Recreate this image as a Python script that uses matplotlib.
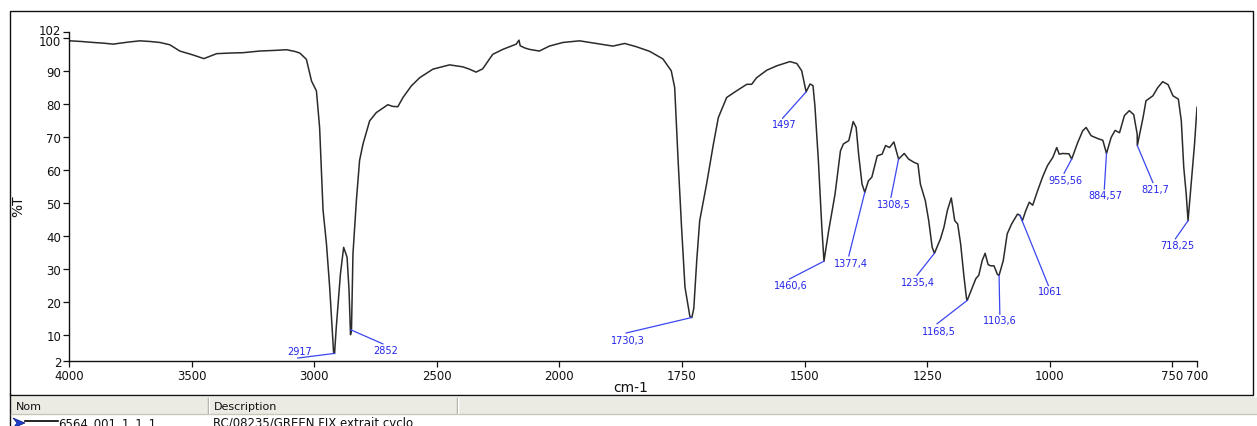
import numpy as np
import matplotlib
matplotlib.use('Agg')
import matplotlib.pyplot as plt
import matplotlib.transforms as mtransforms
from matplotlib.patches import Rectangle, Polygon
from matplotlib.lines import Line2D

# ---------------- data ----------------
wavenumber = [
    4000, 3996, 3950, 3901, 3860, 3820, 3760, 3711, 3670, 3629, 3589, 3548,
    3494, 3450, 3398, 3340, 3290, 3222, 3160, 3113, 3080, 3059, 3032, 3011,
    2991, 2978, 2964, 2950, 2937, 2921, 2917, 2910, 2893, 2880, 2866, 2858,
    2852, 2848, 2842, 2828, 2815, 2801, 2774, 2747, 2700, 2680, 2659, 2638,
    2604, 2570, 2516, 2448, 2394, 2367, 2340, 2313, 2272, 2231, 2176, 2165,
    2160, 2140, 2122, 2082, 2041, 1993, 1959, 1925, 1891, 1867, 1843, 1816,
    1789, 1772, 1765, 1758, 1751, 1744, 1734, 1730, 1726, 1720, 1714, 1700,
    1686, 1676, 1659, 1639, 1618, 1608, 1598, 1577, 1557, 1530, 1516, 1506,
    1497, 1489, 1483, 1479, 1472, 1465, 1460.6, 1451, 1438, 1427, 1421, 1410,
    1401, 1395, 1390, 1383, 1377.4, 1370, 1363, 1352, 1342, 1335, 1327, 1318,
    1315, 1308.5, 1297, 1288, 1277, 1269, 1264, 1254, 1247, 1240, 1235.4, 1223,
    1216, 1209, 1201, 1194, 1188, 1182, 1175, 1170, 1168.5, 1158, 1151, 1145,
    1138, 1132, 1126, 1121, 1114, 1107, 1103.6, 1095, 1087, 1078, 1066, 1061,
    1056, 1049, 1042, 1035, 1025, 1015, 1005, 994, 986, 981, 974, 961,
    955.56, 943, 933, 926, 916, 902, 892, 884.57, 875, 867, 858, 848,
    838, 829, 822, 821.7, 810, 804, 790, 780, 770, 759, 749, 738,
    732, 727, 722, 718.25, 712, 705, 700,
]
transmittance = [
    99.4, 99.2, 99.0, 98.7, 98.5, 98.2, 98.8, 99.2, 99.0, 98.7, 98.0, 96.1,
    94.9, 93.8, 95.3, 95.5, 95.6, 96.1, 96.3, 96.5, 96.0, 95.5, 93.6, 87.0,
    84.0, 72.9, 47.8, 37.5, 24.4, 4.6, 4.3, 12.3, 28.5, 36.5, 33.5, 23.5,
    10.0, 11.5, 34.5, 50.8, 62.9, 67.9, 74.9, 77.4, 79.8, 79.3, 79.2, 82.0,
    85.5, 88.0, 90.6, 91.9, 91.3, 90.6, 89.7, 90.7, 95.1, 96.6, 98.2, 99.4,
    97.7, 97.0, 96.6, 96.1, 97.6, 98.7, 99.2, 98.4, 97.6, 98.4, 97.4, 96.0,
    93.7, 90.1, 85.0, 62.8, 42.6, 24.4, 15.5, 15.2, 18.0, 32.6, 44.6, 55.7,
    67.9, 75.9, 82.0, 84.0, 86.0, 86.0, 88.0, 90.3, 91.6, 92.9, 92.3, 90.1,
    83.7, 86.1, 85.6, 79.3, 62.8, 42.6, 32.3, 41.6, 52.7, 65.8, 67.9, 68.9,
    74.7, 72.9, 64.8, 55.7, 53.2, 56.7, 57.8, 64.3, 64.8, 67.4, 66.8, 68.5,
    66.8, 63.3, 65.0, 63.3, 62.3, 61.8, 55.7, 50.7, 44.6, 36.5, 34.7, 39.1,
    42.6, 47.7, 51.5, 44.6, 43.6, 37.6, 27.4, 21.0, 20.4, 24.4, 27.0, 28.0,
    32.5, 34.7, 31.3, 30.9, 30.9, 28.3, 28.0, 32.5, 40.6, 43.6, 46.6, 46.2,
    44.6, 47.7, 50.2, 49.3, 53.7, 57.8, 61.3, 63.8, 66.8, 64.8, 65.0, 64.9,
    63.3, 68.4, 71.9, 72.9, 70.4, 69.5, 69.0, 65.0, 69.9, 72.0, 71.3, 76.5,
    78.0, 76.8, 70.9, 67.4, 75.9, 81.0, 82.5, 85.0, 86.8, 85.9, 82.5, 81.5,
    74.9, 60.8, 52.7, 44.6, 55.7, 67.9, 79.0,
]

peak_labels = ["2917", "2852", "1730,3", "1497", "1460,6", "1377,4", "1308,5",
               "1235,4", "1168,5", "1103,6", "1061", "955,56", "884,57",
               "821,7", "718,25"]
peak_wn = [2917, 2852, 1730.3, 1497, 1460.6, 1377.4, 1308.5, 1235.4, 1168.5,
           1103.6, 1061, 955.56, 884.57, 821.7, 718.25]
peak_t = [4.3, 11.5, 15.2, 83.7, 32.3, 53.2, 63.3, 34.7, 20.4, 28.0, 46.2,
          63.3, 65.0, 67.4, 44.6]

x_ticks = [4000, 3500, 3000, 2500, 2000, 1750, 1500, 1250, 1000, 750, 700]
y_ticks = [2, 10, 20, 30, 40, 50, 60, 70, 80, 90, 100, 102]

# label layout: (line end wn, line end T, text wn, text T)
label_layout = [
    (3067, 2.9, 3059, 4.9),
    (2720, 7.2, 2710, 5.2),
    (1864, 10.5, 1860, 8.3),
    (1545, 75.7, 1542, 74.0),
    (1531, 26.9, 1528, 25.0),
    (1410, 33.9, 1405, 31.8),
    (1324, 51.7, 1318, 49.8),
    (1271, 28.0, 1268, 26.0),
    (1230, 13.3, 1226, 11.2),
    (1102, 16.2, 1102, 14.5),
    (1003, 24.9, 1000, 23.2),
    (971, 59.0, 968, 56.9),
    (889, 54.2, 886, 52.4),
    (790, 56.2, 786, 54.3),
    (744, 39.1, 741, 37.3),
]

# ---------------- figure ----------------
W, H = 1257, 427
fig = plt.figure(figsize=(W / 100, H / 100), dpi=100)
fig.patch.set_facecolor('white')


def fx(x):
    return x / W


def fy(y):
    return 1 - y / H


ax = fig.add_axes([fx(69), fy(362), fx(1197) - fx(69), fy(32.6) - fy(362)])


def fwd(w):
    w = np.asarray(w, float)
    return np.where(w > 2000, 2000 + (w - 2000) / 2.0, w)


def inv(u):
    u = np.asarray(u, float)
    return np.where(u > 2000, 2000 + (u - 2000) * 2.0, u)


ax.set_xscale('function', functions=(fwd, inv))
ax.plot(wavenumber, transmittance, color='#2b2b2b', lw=1.1, solid_joinstyle='round')
ax.set_xlim(4000, 700)
ax.set_ylim(2, 102)

for lab, w, t, (lw_, lt, tw, tt) in zip(peak_labels, peak_wn, peak_t, label_layout):
    ax.plot([w, lw_], [t, lt], color='#3a46f0', lw=0.9, clip_on=False)
    ax.text(tw, tt, lab, color='#2424e8', fontsize=7, ha='center', va='center',
            family='DejaVu Sans')

ax.set_xticks(x_ticks)
ax.set_xticklabels([str(v) for v in x_ticks])
ax.set_yticks(y_ticks)
ax.set_yticklabels([str(v) for v in y_ticks])
ax.xaxis.set_minor_locator(matplotlib.ticker.NullLocator())
for s in ['top', 'right']:
    ax.spines[s].set_visible(False)
for s in ['left', 'bottom']:
    ax.spines[s].set_color('#111111')
    ax.spines[s].set_linewidth(1.0)
ax.tick_params(axis='both', direction='out', length=4, width=0.9, labelsize=8.5,
               colors='#111111')
ax.tick_params(axis='x', pad=2)
ax.tick_params(axis='y', pad=1.5)
ax.patch.set_alpha(0)

# nudge the crowded 102 / 100 labels apart a little, as in the reference
fig.canvas.draw()
ylabels = ax.get_yticklabels()
for lbl in ylabels:
    if lbl.get_text() == '102':
        lbl.set_transform(lbl.get_transform() + mtransforms.ScaledTranslation(0, 2.5 / 100, fig.dpi_scale_trans))
    elif lbl.get_text() == '100':
        lbl.set_transform(lbl.get_transform() + mtransforms.ScaledTranslation(0, -2 / 100, fig.dpi_scale_trans))

fig.text(fx(631), fy(388), 'cm-1', fontsize=10, ha='center', va='center', color='#111111')
fig.text(fx(18), fy(206), '%T', fontsize=10, ha='center', va='center', rotation=90,
         color='#111111')

# outer frame of the plot panel
fig.add_artist(Rectangle((fx(10), fy(395.5)), fx(1253) - fx(10), fy(12) - fy(395.5),
                         transform=fig.transFigure, fill=False, edgecolor='#111111', lw=1.0))
fig.add_artist(Line2D([fx(10), fx(10)], [fy(395), fy(427)], transform=fig.transFigure,
                      color='#111111', lw=1.0))

# table header
fig.add_artist(Rectangle((fx(10.5), fy(415)), fx(1257) - fx(10.5), fy(397.5) - fy(415),
                         transform=fig.transFigure, facecolor='#ecebe3', edgecolor='none'))
fig.add_artist(Line2D([fx(10.5), fx(1257)], [fy(415), fy(415)], transform=fig.transFigure,
                      color='#c9c7ba', lw=1.0))
for sx in [208, 457]:
    fig.add_artist(Line2D([fx(sx), fx(sx)], [fy(399), fy(414)], transform=fig.transFigure,
                          color='#a9a797', lw=1.0))
    fig.add_artist(Line2D([fx(sx + 1), fx(sx + 1)], [fy(399), fy(414)],
                          transform=fig.transFigure, color='white', lw=1.0))
fig.text(fx(16), fy(407), 'Nom', fontsize=8, ha='left', va='center', color='#111111')
fig.text(fx(214), fy(407), 'Description', fontsize=8, ha='left', va='center',
         color='#111111')

# first row (cut by the bottom edge)
fig.add_artist(Polygon([(fx(13), fy(419)), (fx(25), fy(424)), (fx(13), fy(429)),
                        (fx(17), fy(424))], closed=True, transform=fig.transFigure,
                       facecolor='#1f3fd0', edgecolor='#0a1a80', lw=0.5))
fig.add_artist(Line2D([fx(25), fx(58)], [fy(422), fy(422)], transform=fig.transFigure,
                      color='black', lw=1.2))
fig.text(fx(58), fy(417.5), '6564_001_1_1_1', fontsize=8.5, ha='left', va='top',
         color='#111111')
fig.text(fx(213), fy(417.5), 'RC/08235/GREEN FIX extrait cyclo', fontsize=8.5,
         ha='left', va='top', color='#111111')

fig.savefig('out.png', dpi=100)
